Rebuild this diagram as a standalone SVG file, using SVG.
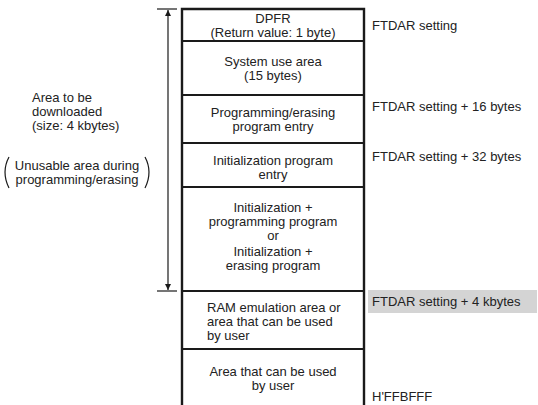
<svg xmlns="http://www.w3.org/2000/svg" width="538" height="405" viewBox="0 0 538 405">
<style>
text{font-family:"Liberation Sans",Arial,sans-serif;font-size:13px;fill:#222}
.c{text-anchor:middle}
.box{stroke:#1a1a1a;stroke-width:2.4;fill:none}
.div{stroke:#1a1a1a;stroke-width:2.2}
.thin{stroke:#1a1a1a;stroke-width:1.2;fill:none}
</style>
<defs>
<marker id="ah" viewBox="0 0 10 10" refX="10" refY="5" markerWidth="11" markerHeight="6" markerUnits="userSpaceOnUse" orient="auto">
<path d="M0,0 L10,5 L0,10 z" fill="#1a1a1a"/>
</marker>
</defs>
<rect x="0" y="0" width="538" height="405" fill="#fff"/>
<g id="connectors">
<line class="thin" x1="157" y1="9" x2="177" y2="9"/>
<line class="thin" x1="157" y1="291" x2="177" y2="291"/>
<line class="thin" x1="168" y1="150" x2="168" y2="10" marker-end="url(#ah)"/>
<line class="thin" x1="168" y1="150" x2="168" y2="290" marker-end="url(#ah)"/>
</g>
<g id="memory-frame">
<path class="box" d="M182,405 V9 H364 V405"/>
</g>
<g id="dpfr">
<line class="div" x1="182" y1="41" x2="364" y2="41"/>
<text class="c" x="273" y="23">DPFR</text>
<text class="c" x="273" y="37">(Return value: 1 byte)</text>
</g>
<g id="system-use">
<line class="div" x1="182" y1="95" x2="364" y2="95"/>
<text class="c" x="273" y="66">System use area</text>
<text class="c" x="273" y="80">(15 bytes)</text>
</g>
<g id="prog-entry">
<line class="div" x1="182" y1="143" x2="364" y2="143"/>
<text class="c" x="273" y="117">Programming/erasing</text>
<text class="c" x="273" y="131">program entry</text>
</g>
<g id="init-entry">
<line class="div" x1="182" y1="187" x2="364" y2="187"/>
<text class="c" x="273" y="165">Initialization program</text>
<text class="c" x="273" y="179">entry</text>
</g>
<g id="init-program">
<line class="div" x1="182" y1="291" x2="364" y2="291"/>
<text class="c" x="273" y="212">Initialization +</text>
<text class="c" x="273" y="226">programming program</text>
<text class="c" x="273" y="240">or</text>
<text class="c" x="273" y="256">Initialization +</text>
<text class="c" x="273" y="270">erasing program</text>
</g>
<g id="ram-emulation">
<line class="div" x1="182" y1="349" x2="364" y2="349"/>
<text x="207" y="312">RAM emulation area or</text>
<text x="207" y="326">area that can be used</text>
<text x="207" y="340">by user</text>
</g>
<g id="user-area">
<text class="c" x="273" y="376">Area that can be used</text>
<text class="c" x="273" y="390">by user</text>
</g>
<g id="addr-labels">
<text x="372" y="30">FTDAR setting</text>
<text x="372" y="111">FTDAR setting + 16 bytes</text>
<text x="372" y="161">FTDAR setting + 32 bytes</text>
<rect x="368" y="290" width="169" height="23" fill="#d4d4d4"/>
<text x="372" y="306">FTDAR setting + 4 kbytes</text>
<text x="372" y="401">H'FFBFFF</text>
</g>
<g id="left-label">
<text x="32" y="102">Area to be</text>
<text x="32" y="116">downloaded</text>
<text x="32" y="130">(size: 4 kbytes)</text>
<text class="c" x="77" y="170">Unusable area during</text>
<text class="c" x="77" y="184">programming/erasing</text>
<path class="thin" d="M9,157 Q1,172 9,188"/>
<path class="thin" d="M145,157 Q153,172 145,188"/>
</g>
</svg>
